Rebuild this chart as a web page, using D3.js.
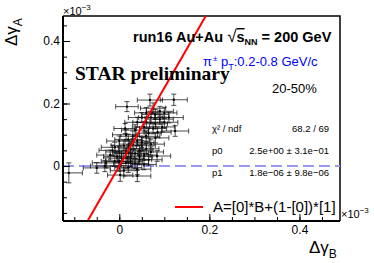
<!DOCTYPE html>
<html lang="en">
<head>
  <meta charset="UTF-8">
  <title>run16 Au+Au delta gamma</title>
  <style>
    body { margin: 0; padding: 0; background: #fff; }
    svg { display: block; font-family: "Liberation Sans", Arial, sans-serif; }
    .tick text { font-size: 12px; font-family: "Liberation Sans", Arial, sans-serif; }
  </style>
</head>
<body>
  <svg id="chart"></svg>
  <script src="https://d3js.org/d3.v7.min.js"></script>
  <script>
    const width = 374;
    const height = 263;

    // data in units of 1e-3
    const dgB = [0.068, 0.121, 0.017, 0.075, 0.09, 0.06, 0.08, 0.1, 0.05, 0.07,
                 0.09, 0.11, 0.04, 0.06, 0.08, 0.1, 0.055, 0.075, 0.095, 0.124,
                 0.013, 0.035, 0.065, 0.085,
                 0.0, 0.02, 0.04, 0.03, 0.01, 0.05, -0.01, 0.025, 0.045, 0.06,
                 0.0, 0.015, 0.035, 0.055, -0.02, 0.084, 0.005, 0.025, 0.045, 0.065,
                 -0.01, 0.015, 0.035, 0.055, -0.03, 0.0, 0.02, 0.04, -0.032, -0.05,
                 -0.112, 0.002, 0.04, 0.03, 0.015, -0.015, 0.07, 0.01, 0.05, 0.06,
                 0.08, 0.045, -0.005, 0.025, 0.07, 0.02, 0.0];
    const dgA = [0.211, 0.212, 0.19, 0.185, 0.175, 0.17, 0.165, 0.17, 0.155, 0.155,
                 0.15, 0.155, 0.14, 0.14, 0.135, 0.14, 0.125, 0.12, 0.125, 0.112,
                 0.12, 0.115, 0.105, 0.108,
                 0.08, 0.085, 0.08, 0.07, 0.065, 0.065, 0.06, 0.055, 0.05, 0.055,
                 0.045, 0.04, 0.04, 0.035, 0.035, 0.032, 0.025, 0.025, 0.02, 0.02,
                 0.015, 0.01, 0.008, 0.005, 0.01, 0.0, -0.005, -0.01, 0.0, -0.006,
                 -0.022, -0.029, -0.032, 0.095, 0.1, 0.05, 0.045, -0.015, 0.075, 0.095,
                 0.09, 0.03, 0.03, 0.015, 0.07, 0.045, 0.015];
    const errB = [0.028, 0.03, 0.025, 0.028, 0.03, 0.026, 0.03, 0.028, 0.03, 0.027,
                  0.03, 0.032, 0.028, 0.03, 0.027, 0.03, 0.026, 0.03, 0.028, 0.03,
                  0.025, 0.03, 0.028, 0.03,
                  0.028, 0.03, 0.027, 0.03, 0.028, 0.03, 0.03, 0.027, 0.03, 0.028,
                  0.03, 0.027, 0.03, 0.028, 0.03, 0.03, 0.028, 0.03, 0.027, 0.03,
                  0.03, 0.028, 0.03, 0.027, 0.03, 0.028, 0.03, 0.03, 0.032, 0.03,
                  0.03, 0.028, 0.03, 0.028, 0.03, 0.03, 0.028, 0.03, 0.027, 0.03,
                  0.03, 0.028, 0.03, 0.027, 0.03, 0.028, 0.03];
    const errA = [0.019, 0.018, 0.016, 0.017, 0.016, 0.017, 0.016, 0.018, 0.016, 0.017,
                  0.016, 0.017, 0.016, 0.017, 0.016, 0.017, 0.016, 0.017, 0.016, 0.017,
                  0.016, 0.017, 0.016, 0.017,
                  0.016, 0.017, 0.016, 0.017, 0.016, 0.017, 0.016, 0.017, 0.016, 0.017,
                  0.016, 0.017, 0.016, 0.017, 0.016, 0.017, 0.016, 0.017, 0.016, 0.017,
                  0.016, 0.017, 0.016, 0.017, 0.016, 0.017, 0.016, 0.017, 0.018, 0.017,
                  0.032, 0.02, 0.018, 0.017, 0.016, 0.017, 0.016, 0.017, 0.016, 0.017,
                  0.016, 0.017, 0.016, 0.017, 0.016, 0.017, 0.016];

    const p0 = 2.5;
    const p1 = 1.8e-6;
    const xTicks = [0, 0.2, 0.4];
    const yTicks = [0, 0.2, 0.4];
    const statRows = [["\u03c7\u00b2 / ndf", "68.2 / 69"],
                      ["p0", "2.5e+00 \u00b1 3.1e\u221201"],
                      ["p1", "1.8e\u221206 \u00b1 9.8e\u221206"]];

    const svg = d3.select("#chart").attr("width", width).attr("height", height);

    const x = d3.scaleLinear().domain([-0.125, 0.49]).range([63, 340]);
    const y = d3.scaleLinear().domain([-0.176, 0.48]).range([221, 16]);

    svg.append("clipPath").attr("id", "frame")
      .append("rect").attr("x", 63).attr("y", 16).attr("width", 277).attr("height", 205);

    // frame top/right
    svg.append("path")
      .attr("d", "M63,16H340V221")
      .attr("fill", "none").attr("stroke", "#000").attr("stroke-width", 1.5);

    // dashed zero line
    svg.append("line")
      .attr("x1", x.range()[0]).attr("x2", x.range()[1])
      .attr("y1", y(0)).attr("y2", y(0))
      .attr("stroke", "#9a9af5").attr("stroke-width", 2)
      .attr("stroke-dasharray", "11,5");

    // points
    const pts = dgB.map((b, i) => ({ b: b, a: dgA[i], eb: errB[i], ea: errA[i] }));
    const g = svg.append("g").attr("clip-path", "url(#frame)")
      .attr("stroke", "#111").attr("stroke-width", 1).attr("fill", "none");
    pts.forEach(d => {
      const cx = x(d.b), cy = y(d.a);
      const x0 = x(d.b - d.eb), x1 = x(d.b + d.eb);
      const y0 = y(d.a - d.ea), y1 = y(d.a + d.ea);
      g.append("path").attr("stroke-opacity", 0.75)
        .attr("d", `M${x0},${cy}H${x1}M${cx},${y0}V${y1}` +
          `M${x0},${cy - 2.5}V${cy + 2.5}M${x1},${cy - 2.5}V${cy + 2.5}` +
          `M${cx - 2.5},${y0}H${cx + 2.5}M${cx - 2.5},${y1}H${cx + 2.5}`);
      g.append("circle").attr("cx", cx).attr("cy", cy).attr("r", 1.2)
        .attr("fill", "#000").attr("stroke", "none");
    });

    // fit line
    const fit = b => p0 * b + (1 - p0) * p1;
    svg.append("line").attr("clip-path", "url(#frame)")
      .attr("x1", x(-0.125)).attr("y1", y(fit(-0.125)))
      .attr("x2", x(0.3)).attr("y2", y(fit(0.3)))
      .attr("stroke", "#ff0000").attr("stroke-width", 2);

    // axes
    const yAxis = svg.append("g").attr("transform", "translate(63,0)")
      .call(d3.axisLeft(y).tickValues(yTicks).tickSize(-7).tickPadding(3)
        .tickFormat(d => d === 0 ? "0" : d3.format(".1f")(d)));
    svg.append("g").attr("transform", "translate(63,0)")
      .call(d3.axisLeft(y).tickValues(d3.range(-0.15, 0.46, 0.05)).tickSize(-4).tickFormat(""))
      .call(a => a.select(".domain").remove());
    yAxis.select(".domain").attr("stroke-width", 2).attr("d", "M0,16V221");

    const xAxis = svg.append("g").attr("transform", "translate(0,221)")
      .call(d3.axisBottom(x).tickValues(xTicks).tickSize(-7).tickPadding(4)
        .tickFormat(d => d === 0 ? "0" : d3.format(".1f")(d)));
    svg.append("g").attr("transform", "translate(0,221)")
      .call(d3.axisBottom(x).tickValues(d3.range(-0.1, 0.49, 0.05)).tickSize(-4).tickFormat(""))
      .call(a => a.select(".domain").remove());
    xAxis.select(".domain").attr("stroke-width", 2).attr("d", "M63,0H340");
    svg.selectAll(".tick line").attr("stroke-width", 1);

    // exponent labels
    function expLabel(px, py) {
      const t = svg.append("text").attr("x", px).attr("y", py).attr("font-size", 11);
      t.append("tspan").text("\u00d710");
      t.append("tspan").attr("dy", -5).attr("font-size", 8).text("\u22123");
    }
    expLabel(63, 15);
    expLabel(341, 218);

    // axis titles
    const ta = svg.append("text").attr("transform", "translate(17,46) rotate(-90)")
      .attr("font-size", 17);
    ta.append("tspan").text("\u0394\u03b3");
    ta.append("tspan").attr("dy", 5).attr("font-size", 12).text("A");

    const tb = svg.append("text").attr("x", 309).attr("y", 253).attr("font-size", 17);
    tb.append("tspan").text("\u0394\u03b3");
    tb.append("tspan").attr("dy", 5).attr("font-size", 12).text("B");

    // header texts
    const h = svg.append("text").attr("x", 133).attr("y", 42)
      .attr("font-size", 14.5).attr("font-weight", "bold");
    h.append("tspan").text("run16 Au+Au  ");
    h.append("tspan").attr("font-weight", "normal").attr("font-size", 17).text("\u221a");
    h.append("tspan").attr("text-decoration", "overline").text("s");
    h.append("tspan").attr("dy", 3).attr("font-size", 9).text("NN");
    h.append("tspan").attr("dy", -3).text(" = 200 GeV");

    const pi = svg.append("text").attr("x", 203).attr("y", 66)
      .attr("font-size", 13).attr("fill", "#0000ff");
    pi.append("tspan").text("\u03c0");
    pi.append("tspan").attr("dx", 1).attr("dy", -5).attr("font-size", 8).text("\u00b1");
    pi.append("tspan").attr("dy", 5).text(" p");
    pi.append("tspan").attr("dy", 4).attr("font-size", 9).text("T");
    pi.append("tspan").attr("dy", -4).text(":0.2-0.8 GeV/c");

    svg.append("text").attr("x", 75).attr("y", 80)
      .attr("font-family", "'Liberation Serif', 'Times New Roman', serif")
      .attr("font-weight", "bold").attr("font-size", 19.5)
      .text("STAR preliminary");

    svg.append("text").attr("x", 272).attr("y", 93).attr("font-size", 13).text("20-50%");

    // stats box
    statRows.forEach((r, i) => {
      const yy = 132 + i * 22;
      svg.append("text").attr("x", 212).attr("y", yy).attr("font-size", 9.5).text(r[0]);
      svg.append("text").attr("x", 329).attr("y", yy).attr("font-size", 9.5)
        .attr("text-anchor", "end").text(r[1]);
    });

    // legend
    svg.append("line").attr("x1", 175).attr("x2", 203).attr("y1", 207).attr("y2", 207)
      .attr("stroke", "#ff0000").attr("stroke-width", 2);
    svg.append("text").attr("x", 213).attr("y", 212).attr("font-size", 15)
      .text("A=[0]*B+(1-[0])*[1]");
  </script>
</body>
</html>
